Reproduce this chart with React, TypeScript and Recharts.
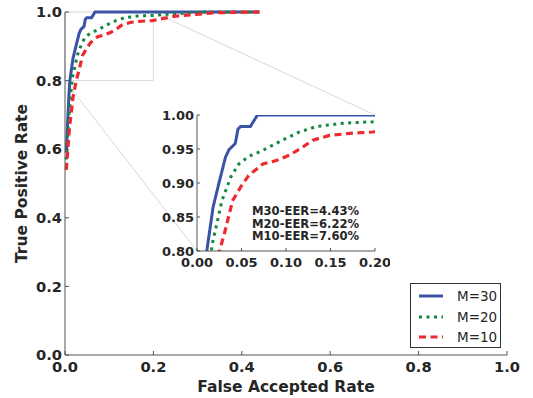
import React from "react";
import {
  LineChart,
  Line,
  XAxis,
  YAxis,
  ReferenceArea,
  ReferenceLine,
  CartesianGrid,
  Label,
} from "recharts";

// ROC data (false accepted rate / true positive rate)
const M30_FAR = [0.003, 0.006, 0.009, 0.011, 0.018, 0.0245, 0.032, 0.036, 0.043, 0.046, 0.049, 0.06, 0.066, 0.068, 0.44];
const M30_TPR = [0.59, 0.68, 0.76, 0.8, 0.864, 0.899, 0.938, 0.949, 0.958, 0.979, 0.983, 0.983, 0.996, 1.0, 1.0];

const M20_FAR = [0.003, 0.008, 0.013, 0.017, 0.0226, 0.028, 0.038, 0.047, 0.058, 0.074, 0.096, 0.115, 0.134, 0.164, 0.198, 0.25, 0.31, 0.44];
const M20_TPR = [0.57, 0.68, 0.76, 0.81, 0.842, 0.874, 0.909, 0.928, 0.939, 0.948, 0.963, 0.975, 0.983, 0.988, 0.99, 0.995, 1.0, 1.0];

const M10_FAR = [0.003, 0.01, 0.018, 0.0257, 0.031, 0.04, 0.049, 0.058, 0.074, 0.089, 0.104, 0.119, 0.13, 0.149, 0.172, 0.198, 0.25, 0.305, 0.34, 0.44];
const M10_TPR = [0.54, 0.66, 0.75, 0.802, 0.827, 0.874, 0.894, 0.911, 0.928, 0.933, 0.941, 0.953, 0.963, 0.97, 0.973, 0.975, 0.988, 0.994, 0.998, 1.0];

const SERIES_NAMES = ["M=30", "M=20", "M=10"];
const EER_LABELS = ["M30-EER=4.43%", "M20-EER=6.22%", "M10-EER=7.60%"];

const MAIN_X_TICKS = [0, 0.2, 0.4, 0.6, 0.8, 1.0];
const MAIN_Y_TICKS = [0, 0.2, 0.4, 0.6, 0.8, 1.0];
const INSET_X_TICKS = [0, 0.05, 0.1, 0.15, 0.2];
const INSET_Y_TICKS = [0.8, 0.85, 0.9, 0.95, 1.0];
const ZOOM_X = [0, 0.2];
const ZOOM_Y = [0.8, 1.0];

const FONT = "'DejaVu Sans', sans-serif";
const TEXT = "#262626";
const FRAME = "#555555";
const CONNECTOR = "#d8d8d8";

const zip = (far: number[], tpr: number[]) => far.map((x, i) => ({ x, y: tpr[i] }));

const series = [
  { name: SERIES_NAMES[0], data: zip(M30_FAR, M30_TPR), color: "#3a53a4", dash: undefined, width: 3 },
  { name: SERIES_NAMES[1], data: zip(M20_FAR, M20_TPR), color: "#14883e", dash: "3 4.5", width: 3 },
  { name: SERIES_NAMES[2], data: zip(M10_FAR, M10_TPR), color: "#ec2a2f", dash: "7 4.5", width: 3.2 },
];

// layout (page pixels)
const W = 533;
const H = 398;
const MAIN = { left: 65, top: 12, right: 507, bottom: 355 };
const INSET = { left: 197, top: 115, right: 375, bottom: 251 };
const INSET_YAXIS_W = 47;
const INSET_XAXIS_H = 24;
const INSET_PAD = 15;

const toMainX = (px: number) => (px - MAIN.left) / (MAIN.right - MAIN.left);
const toMainY = (py: number) => (MAIN.bottom - py) / (MAIN.bottom - MAIN.top);

const labelStyle = { fontFamily: FONT, fontWeight: 700, fill: TEXT };

const bottomTick = (digits: number, size: number, len: number, dy: number) => (props: any) => {
  const { x, y, payload } = props;
  return (
    <g>
      <line x1={x} x2={x} y1={y} y2={y - len} stroke={FRAME} />
      <text x={x} y={y + dy} textAnchor="middle" fontSize={size} style={labelStyle}>
        {Number(payload.value).toFixed(digits)}
      </text>
    </g>
  );
};

const leftTick = (digits: number, size: number, len: number) => (props: any) => {
  const { x, y, payload } = props;
  return (
    <g>
      <line x1={x} x2={x + len} y1={y} y2={y} stroke={FRAME} />
      <text x={x - 3} y={y} dy="0.36em" textAnchor="end" fontSize={size} style={labelStyle}>
        {Number(payload.value).toFixed(digits)}
      </text>
    </g>
  );
};

const topTick = (len: number) => (props: any) => (
  <line x1={props.x} x2={props.x} y1={props.y} y2={props.y + len} stroke={FRAME} />
);

const rightTick = (len: number) => (props: any) => (
  <line x1={props.x} x2={props.x - len} y1={props.y} y2={props.y} stroke={FRAME} />
);

const YTitle = () => {
  const cx = 22;
  const cy = (MAIN.top + MAIN.bottom) / 2;
  return (
    <text
      x={cx}
      y={cy}
      transform={`rotate(-90 ${cx} ${cy})`}
      textAnchor="middle"
      dominantBaseline="central"
      fontSize={15.5}
      style={labelStyle}
    >
      True Positive Rate
    </text>
  );
};

const XTitle = () => (
  <text x={(MAIN.left + MAIN.right) / 2} y={391.5} textAnchor="middle" fontSize={15.5} style={labelStyle}>
    False Accepted Rate
  </text>
);

// EER annotation inside the inset, page coordinates
function EerText() {
  const x = INSET.left + 55;
  const base = INSET.bottom - 36;
  return (
    <svg
      width={W}
      height={H}
      style={{ position: "absolute", left: 0, top: 0, pointerEvents: "none" }}
    >
      {EER_LABELS.map((t, i) => (
        <text key={t} x={x} y={base + i * 12.5} fontSize={11.6} style={labelStyle}>
          {t}
        </text>
      ))}
    </svg>
  );
}

function Legend() {
  const rows = [12, 33, 53];
  return (
    <div
      style={{
        position: "absolute",
        left: 410,
        top: 283,
        width: 91,
        height: 65,
        boxSizing: "border-box",
        border: "1px solid #333",
        background: "#fff",
      }}
    >
      {series.map((s, i) => (
        <div key={s.name} style={{ position: "absolute", left: 0, top: rows[i] - 9, height: 18, width: 89 }}>
          <svg width={24} height={18} style={{ position: "absolute", left: 8, top: 0 }}>
            <line
              x1={0}
              x2={24}
              y1={9}
              y2={9}
              stroke={s.color}
              strokeWidth={s.width}
              strokeDasharray={s.dash}
            />
          </svg>
          <span
            style={{
              position: "absolute",
              left: 46,
              top: 0,
              lineHeight: "18px",
              fontSize: 13.5,
              fontFamily: FONT,
              color: TEXT,
            }}
          >
            {s.name}
          </span>
        </div>
      ))}
    </div>
  );
}

export default function App() {
  const insetLeft = INSET.left - INSET_YAXIS_W;
  const insetTop = INSET.top - INSET_PAD;
  const insetW = INSET.right + INSET_PAD - insetLeft;
  const insetH = INSET.bottom + INSET_XAXIS_H - insetTop;

  return (
    <div style={{ position: "absolute", left: 0, top: 0, width: W, height: H, background: "#fff" }}>
      {/* main ROC plot */}
      <div style={{ position: "absolute", left: 0, top: 0 }}>
        <LineChart
          width={W}
          height={H}
          margin={{ top: MAIN.top, right: W - MAIN.right, bottom: 0, left: 0 }}
        >
          <XAxis
            type="number"
            dataKey="x"
            domain={[0, 1]}
            ticks={MAIN_X_TICKS}
            interval={0}
            height={H - MAIN.bottom}
            tickSize={0}
            tickMargin={0}
            tickLine={false}
            axisLine={{ stroke: FRAME }}
            tick={bottomTick(1, 14.7, 4, 16.5)}
          >
            <Label content={<XTitle />} />
          </XAxis>
          <XAxis
            xAxisId="top"
            orientation="top"
            type="number"
            dataKey="x"
            domain={[0, 1]}
            ticks={MAIN_X_TICKS}
            interval={0}
            height={0}
            tickSize={0}
            tickMargin={0}
            tickLine={false}
            axisLine={{ stroke: FRAME }}
            tick={topTick(4)}
          />
          <YAxis
            type="number"
            domain={[0, 1]}
            ticks={MAIN_Y_TICKS}
            interval={0}
            width={MAIN.left}
            tickSize={0}
            tickMargin={0}
            tickLine={false}
            axisLine={{ stroke: FRAME }}
            tick={leftTick(1, 14.7, 4)}
          >
            <Label content={<YTitle />} />
          </YAxis>
          <YAxis
            yAxisId="right"
            orientation="right"
            type="number"
            domain={[0, 1]}
            ticks={MAIN_Y_TICKS}
            interval={0}
            width={0}
            tickSize={0}
            tickMargin={0}
            tickLine={false}
            axisLine={{ stroke: FRAME }}
            tick={rightTick(4)}
          />
          {/* zoom box and connectors to the inset */}
          <ReferenceArea
            x1={ZOOM_X[0]}
            x2={ZOOM_X[1]}
            y1={ZOOM_Y[0]}
            y2={ZOOM_Y[1]}
            fill="none"
            stroke={CONNECTOR}
          />
          <ReferenceLine
            segment={[
              { x: ZOOM_X[0], y: ZOOM_Y[0] },
              { x: toMainX(INSET.left), y: toMainY(INSET.bottom) },
            ]}
            stroke={CONNECTOR}
          />
          <ReferenceLine
            segment={[
              { x: ZOOM_X[1], y: ZOOM_Y[1] },
              { x: toMainX(INSET.right), y: toMainY(INSET.top) },
            ]}
            stroke={CONNECTOR}
          />
          {series.map((s) => (
            <Line
              key={s.name}
              data={s.data}
              dataKey="y"
              name={s.name}
              type="linear"
              stroke={s.color}
              strokeWidth={s.width}
              strokeDasharray={s.dash}
              dot={false}
              isAnimationActive={false}
            />
          ))}
        </LineChart>
      </div>

      {/* zoomed inset */}
      <div style={{ position: "absolute", left: insetLeft, top: insetTop }}>
        <LineChart
          width={insetW}
          height={insetH}
          margin={{ top: INSET_PAD, right: INSET_PAD, bottom: 0, left: 0 }}
        >
          <CartesianGrid fill="#fff" horizontal={false} vertical={false} />
          <XAxis
            type="number"
            dataKey="x"
            domain={[0, 0.2]}
            allowDataOverflow
            ticks={INSET_X_TICKS}
            interval={0}
            height={INSET_XAXIS_H}
            tickSize={0}
            tickMargin={0}
            tickLine={false}
            axisLine={{ stroke: FRAME }}
            tick={bottomTick(2, 13, 3, 15.5)}
          />
          <XAxis
            xAxisId="top"
            orientation="top"
            type="number"
            dataKey="x"
            domain={[0, 0.2]}
            allowDataOverflow
            ticks={INSET_X_TICKS}
            interval={0}
            height={0}
            tickSize={0}
            tickMargin={0}
            tickLine={false}
            axisLine={{ stroke: FRAME }}
            tick={topTick(3)}
          />
          <YAxis
            type="number"
            domain={[0.8, 1.0]}
            allowDataOverflow
            ticks={INSET_Y_TICKS}
            interval={0}
            width={INSET_YAXIS_W}
            tickSize={0}
            tickMargin={0}
            tickLine={false}
            axisLine={{ stroke: FRAME }}
            tick={leftTick(2, 13, 3)}
          />
          <YAxis
            yAxisId="right"
            orientation="right"
            type="number"
            domain={[0.8, 1.0]}
            allowDataOverflow
            ticks={INSET_Y_TICKS}
            interval={0}
            width={0}
            tickSize={0}
            tickMargin={0}
            tickLine={false}
            axisLine={{ stroke: FRAME }}
            tick={rightTick(3)}
          />
          {series.map((s) => (
            <Line
              key={s.name}
              data={s.data}
              dataKey="y"
              name={s.name}
              type="linear"
              stroke={s.color}
              strokeWidth={s.width}
              strokeDasharray={s.dash}
              dot={false}
              isAnimationActive={false}
            />
          ))}
        </LineChart>
      </div>

      <EerText />
      <Legend />
    </div>
  );
}
